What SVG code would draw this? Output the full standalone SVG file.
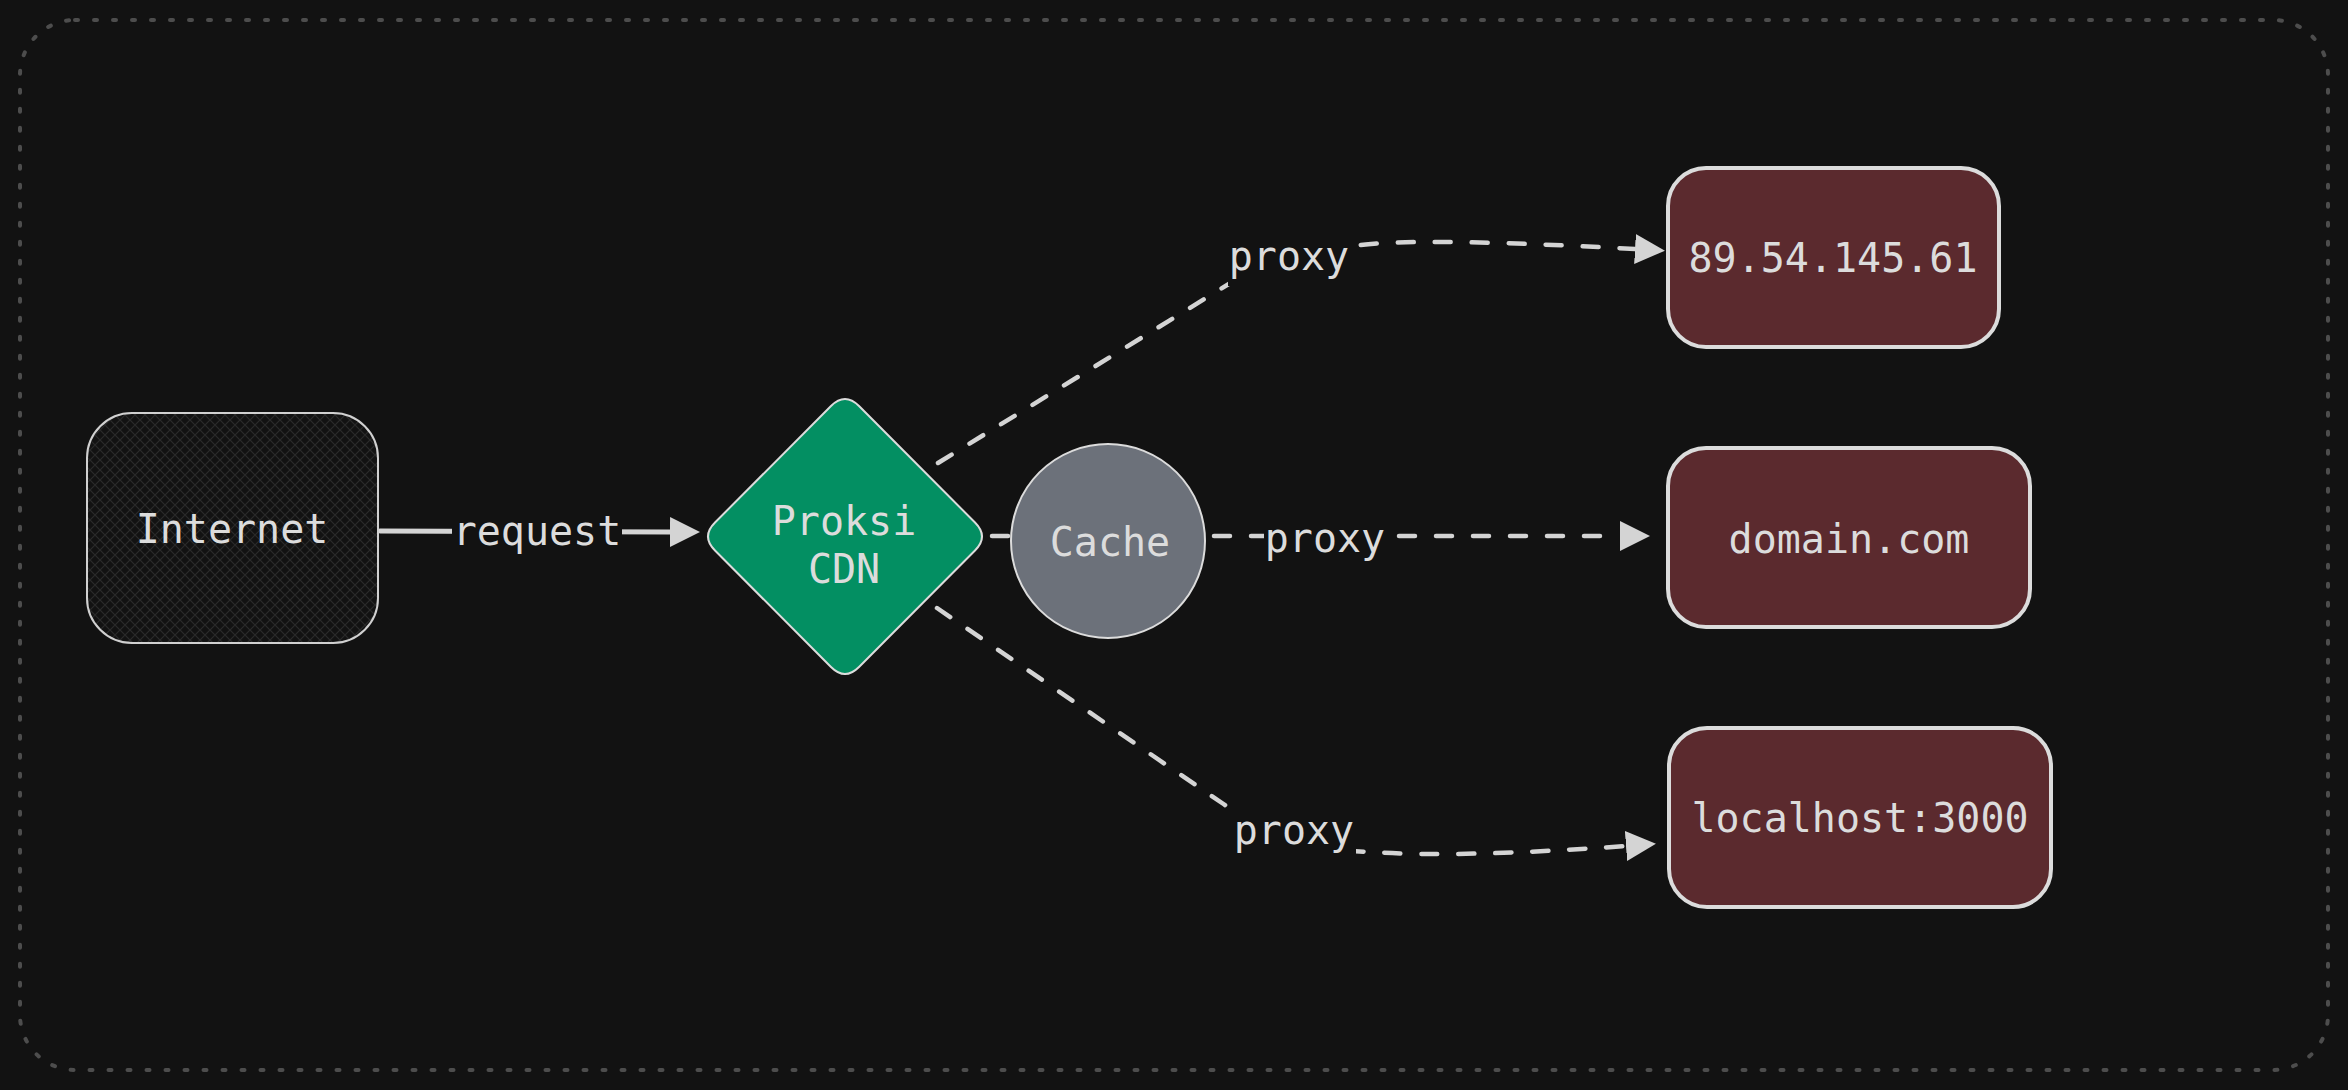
<svg xmlns="http://www.w3.org/2000/svg" width="2348" height="1090" viewBox="0 0 2348 1090">
<style>
.t{font-family:"DejaVu Sans Mono","Liberation Mono",monospace;font-size:40px;fill:#dcdcdc;text-anchor:middle}
.c{fill:none;stroke:#d4d4d4;stroke-width:4.5;stroke-linecap:round}
.d{stroke-dasharray:16 21}
.bg{fill:#121212}
.srv{fill:#5b2a2e;stroke:#dcdcdc;stroke-width:4}
</style>
<defs>
<pattern id="hatch" width="10" height="10" patternUnits="userSpaceOnUse">
<path d="M0,0 L10,10 M10,0 L0,10" stroke="#2a2a2a" stroke-width="1.2"/>
</pattern>
<marker id="ah" viewBox="0 0 30 30" refX="0" refY="15" markerWidth="30" markerHeight="30" markerUnits="userSpaceOnUse" orient="auto">
<path d="M0,0 L30,15 L0,30 Z" fill="#d4d4d4"/>
</marker>
</defs>
<rect width="2348" height="1090" fill="#121212"/>
<rect x="20" y="20" width="2308" height="1050" rx="55" fill="none" stroke="#4d4d4d" stroke-width="4" stroke-dasharray="3 16" stroke-linecap="round"/>
<g id="connectors">
<path class="c" style="stroke-width:5" d="M380,531 L670,532" marker-end="url(#ah)"/>
<rect class="bg" x="452" y="506" width="170" height="50"/>
<text class="t" x="537" y="545">request</text>
<path class="c d" d="M938,463 L1232,282 Q1290,247 1348,247 Q1400,236 1635,249" marker-end="url(#ah)"/>
<rect class="bg" x="1228" y="236" width="122" height="50"/>
<text class="t" x="1289" y="270">proxy</text>
<path class="c d" d="M992,536 L1620,536" marker-end="url(#ah)"/>
<rect class="bg" x="1264" y="516" width="122" height="48"/>
<text class="t" x="1325" y="552">proxy</text>
<path class="c d" d="M937,608 L1222,803 Q1290,850 1371,852 Q1460,858 1626,846" marker-end="url(#ah)"/>
<rect class="bg" x="1232" y="810" width="124" height="48"/>
<text class="t" x="1294" y="844">proxy</text>
</g>
<g id="internet">
<rect x="87" y="413" width="291" height="230" rx="45" fill="#121212"/>
<rect x="87" y="413" width="291" height="230" rx="45" fill="url(#hatch)" stroke="#d0d0d0" stroke-width="2"/>
<text class="t" x="232" y="543">Internet</text>
</g>
<g id="proksi-cdn">
<path d="M831,406 Q845,392 859,406 L975,522.5 Q989,536.5 975,550.5 L859,667 Q845,681 831,667 L715,550.5 Q701,536.5 715,522.5 Z" fill="#038f62" stroke="#dcdcdc" stroke-width="2"/>
<text class="t" x="844" y="535">Proksi</text>
<text class="t" x="844" y="583">CDN</text>
</g>
<g id="cache">
<circle cx="1108" cy="541" r="97" fill="#6c717a" stroke="#dcdcdc" stroke-width="2"/>
<text class="t" x="1110" y="556">Cache</text>
</g>
<g id="server-ip">
<rect class="srv" x="1668" y="168" width="331" height="179" rx="38"/>
<text class="t" x="1833" y="272">89.54.145.61</text>
</g>
<g id="server-domain">
<rect class="srv" x="1668" y="448" width="362" height="179" rx="38"/>
<text class="t" x="1849" y="553">domain.com</text>
</g>
<g id="server-localhost">
<rect class="srv" x="1669" y="728" width="382" height="179" rx="38"/>
<text class="t" x="1860" y="832">localhost:3000</text>
</g>
</svg>
